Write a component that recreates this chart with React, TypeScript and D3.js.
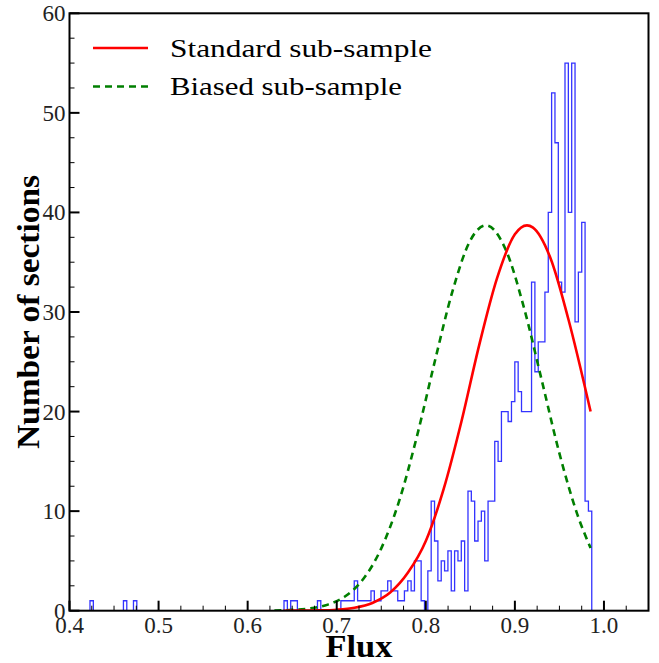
import React from "react";
import * as d3 from "d3";

// Histogram: 150 equal bins between histRange[0] and histRange[1]
const histRange = [0.423, 0.9863];
const histCounts: number[] = [
  1, 0, 0, 0, 0, 0, 0, 0, 0, 0, 1, 0, 0, 1, 0, 0, 0, 0, 0, 0,
  0, 0, 0, 0, 0, 0, 0, 0, 0, 0, 0, 0, 0, 0, 0, 0, 0, 0, 0, 0,
  0, 0, 0, 0, 0, 0, 0, 0, 0, 0, 0, 0, 0, 0, 0, 0, 0, 0, 1, 0,
  1, 1, 0, 0, 0, 0, 0, 0, 1, 0, 0, 0, 0, 0, 0, 1, 1, 1, 1, 3,
  1, 1, 1, 1, 2, 1, 1, 2, 2, 3, 2, 2, 1, 1, 2, 3, 2, 5, 5, 1,
  0, 4, 11, 7, 3, 5, 4, 6, 2, 6, 5, 7, 2, 12, 11, 7, 9, 10, 5, 11,
  11, 17, 15, 20, 20, 19, 21, 25, 22, 20, 20, 20, 33, 24, 27, 27, 32, 40, 52, 47,
  33, 32, 55, 40, 55, 29, 34, 39, 11, 10,
];

// Standard sub-sample curve
const stdX = [0.64, 0.66, 0.68, 0.70, 0.72, 0.74, 0.76, 0.78, 0.80, 0.82, 0.84, 0.86, 0.88, 0.90, 0.9136, 0.92, 0.94, 0.96, 0.985];
const stdY = [0.0, 0.01, 0.03, 0.1, 0.3, 0.78, 1.82, 3.83, 7.0, 12.2, 19.0, 26.7, 33.4, 37.8, 38.7, 38.5, 35.4, 29.3, 20.0];

// Biased sub-sample curve
const biasX = [0.63, 0.65, 0.67, 0.69, 0.71, 0.73, 0.75, 0.77, 0.79, 0.81, 0.83, 0.85, 0.8676, 0.89, 0.91, 0.93, 0.95, 0.97, 0.985];
const biasY = [0.02, 0.08, 0.23, 0.61, 1.47, 3.2, 6.26, 11.0, 17.5, 25.0, 32.1, 37.2, 38.7, 36.2, 30.5, 23.2, 15.8, 9.7, 6.3];

const xTicks = [0.4, 0.5, 0.6, 0.7, 0.8, 0.9, 1.0];
const yTicks = [0, 10, 20, 30, 40, 50, 60];
const legendLabels = ["Standard sub-sample", "Biased sub-sample"];

const W = 659;
const H = 663;
const M = { left: 69.5, right: 648.5, top: 13.3, bottom: 610.7 };
const FONT = "'Liberation Serif', 'DejaVu Serif', serif";

export default function App() {
  const x = d3.scaleLinear().domain([0.4, 1.05]).range([M.left, M.right]);
  const y = d3.scaleLinear().domain([0, 60]).range([M.bottom, M.top]);

  const nb = histCounts.length;
  const bw = (histRange[1] - histRange[0]) / nb;
  const pts: [number, number][] = [[x(histRange[0]), y(0)]];
  histCounts.forEach((c, i) => {
    const x0 = histRange[0] + i * bw;
    pts.push([x(x0), y(c)]);
    pts.push([x(x0 + bw), y(c)]);
  });
  pts.push([x(histRange[1]), y(0)]);
  const histPath = d3.line()(pts) as string;

  const curve = d3
    .line<[number, number]>()
    .x((d) => x(d[0]))
    .y((d) => y(d[1]))
    .curve(d3.curveMonotoneX);
  const stdPath = curve(stdX.map((v, i) => [v, stdY[i]])) as string;
  const biasPath = curve(biasX.map((v, i) => [v, biasY[i]])) as string;

  const xMinor = d3.range(0.4, 1.0501, 0.025).filter((v) => !xTicks.some((t) => Math.abs(t - v) < 1e-6));
  const yMinor = d3.range(0, 60.01, 2.5).filter((v) => v % 10 !== 0);

  return (
    <svg width={W} height={H} style={{ display: "block", position: "absolute", left: 0, top: 0 }}>
      <rect x={0} y={0} width={W} height={H} fill="#fff" />
      <defs>
        <clipPath id="plot">
          <rect x={M.left} y={M.top} width={M.right - M.left} height={M.bottom - M.top} />
        </clipPath>
      </defs>
      <g clipPath="url(#plot)">
        <path d={histPath} fill="none" stroke="#3333ff" strokeWidth={1.3} />
        <path d={biasPath} fill="none" stroke="#007f00" strokeWidth={2.6} strokeDasharray="7,5" />
        <path d={stdPath} fill="none" stroke="#ff0000" strokeWidth={2.6} />
      </g>
      {/* ticks */}
      {xTicks.map((t) => (
        <line key={"xt" + t} x1={x(t)} x2={x(t)} y1={M.bottom} y2={M.bottom - 10} stroke="#000" strokeWidth={2} />
      ))}
      {xMinor.map((t, i) => (
        <line key={"xm" + i} x1={x(t)} x2={x(t)} y1={M.bottom} y2={M.bottom - 5} stroke="#000" strokeWidth={1} />
      ))}
      {yTicks.map((t) => (
        <line key={"yt" + t} x1={M.left} x2={M.left + 10} y1={y(t)} y2={y(t)} stroke="#000" strokeWidth={2} />
      ))}
      {yMinor.map((t, i) => (
        <line key={"ym" + i} x1={M.left} x2={M.left + 5} y1={y(t)} y2={y(t)} stroke="#000" strokeWidth={1} />
      ))}
      <rect x={M.left} y={M.top} width={M.right - M.left} height={M.bottom - M.top} fill="none" stroke="#000" strokeWidth={2} />
      {/* tick labels */}
      {xTicks.map((t) => (
        <text key={"xl" + t} x={x(t)} y={M.bottom + 22} fontFamily={FONT} fontSize={23} textAnchor="middle" fill="#222">
          {t.toFixed(1)}
        </text>
      ))}
      {yTicks.map((t) => (
        <text key={"yl" + t} x={M.left - 4} y={y(t) + 8} fontFamily={FONT} fontSize={23} textAnchor="end" fill="#222">
          {t}
        </text>
      ))}
      {/* axis titles */}
      <text x={359} y={657} fontFamily={FONT} fontSize={32} fontWeight="bold" textAnchor="middle" fill="#000"
        textLength={67} lengthAdjust="spacingAndGlyphs">
        Flux
      </text>
      <text
        transform={`translate(39, ${(M.top + M.bottom) / 2}) rotate(-90)`}
        fontFamily={FONT}
        fontSize={32}
        fontWeight="bold"
        textAnchor="middle"
        fill="#000"
        textLength={274}
        lengthAdjust="spacingAndGlyphs"
      >
        Number of sections
      </text>
      {/* legend */}
      <line x1={93} x2={148} y1={48} y2={48} stroke="#ff0000" strokeWidth={2.6} />
      <line x1={93} x2={148} y1={86.5} y2={86.5} stroke="#007f00" strokeWidth={2.6} strokeDasharray="7,5" />
      <text x={170} y={57} fontFamily={FONT} fontSize={25} fill="#000" textLength={262} lengthAdjust="spacingAndGlyphs">
        {legendLabels[0]}
      </text>
      <text x={170} y={95} fontFamily={FONT} fontSize={25} fill="#000" textLength={232} lengthAdjust="spacingAndGlyphs">
        {legendLabels[1]}
      </text>
    </svg>
  );
}
